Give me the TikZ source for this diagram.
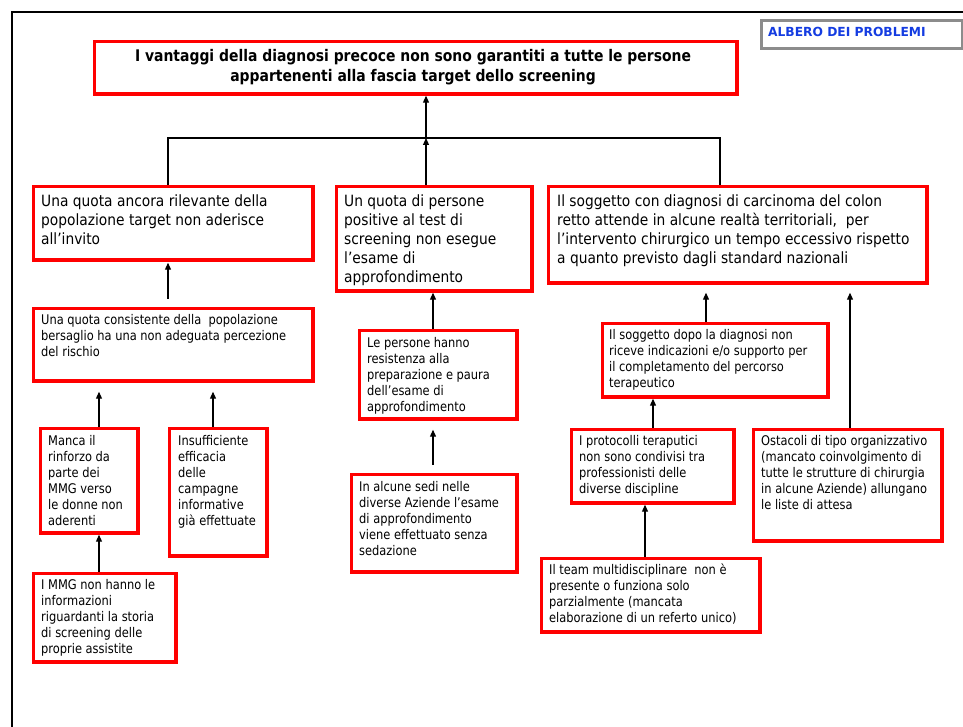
\documentclass[tikz,border=0pt]{standalone}
\usepackage{fontspec}
\setmainfont{DejaVu Sans}
\newfontfamily\bigf[FakeStretch=0.89]{DejaVu Sans}
\newfontfamily\smallf[FakeStretch=0.86]{DejaVu Sans}
\newfontfamily\titlef[FakeStretch=0.87]{DejaVu Sans}
\newfontfamily\labf[FakeStretch=0.98]{DejaVu Sans}
\usetikzlibrary{arrows.meta,calc}
\definecolor{lblue}{RGB}{20,60,225}
\definecolor{lgray}{RGB}{140,140,140}
\tikzset{
  rbox/.style={draw=red, line width=3.4pt, inner sep=0pt, anchor=north west},
  conn/.style={draw=black, line width=1.1pt, -{Triangle[length=7pt,width=6pt]}},
  trunk/.style={draw=black, line width=2pt},
  bigtxt/.style={anchor=base west, inner sep=0pt, font=\bigf\fontsize{15.5}{19}\selectfont},
  smalltxt/.style={anchor=base west, inner sep=0pt, font=\smallf\fontsize{13.3}{16}\selectfont},
}
\newcommand{\rb}[5]{\node[rbox, minimum width={#4-#2-3.4}, minimum height={#5-#3-3.4}] (#1) at ({#2+1.7},{#3+1.7}) {};}
\newcommand{\tl}[1]{\parbox[t]{400pt}{\raggedright #1}}
\begin{document}
\begin{tikzpicture}[x=1pt,y=-1pt]
\useasboundingbox (0,0) rectangle (963,727);
% frame
\draw[line width=2.3pt] (12,727) -- (12,12) -- (963,12);
% label
\node[draw=lgray, line width=3pt, anchor=north west, minimum width=201pt, minimum height=28pt, inner sep=0pt] (lab) at (759.5,19.5) {};
\node[anchor=base west, inner sep=0pt, text=lblue, font=\labf\bfseries\fontsize{12.5}{15}\selectfont] (labt) at (768,37) {ALBERO DEI PROBLEMI};
% title
\rb{top}{91}{38}{737}{94}
\node[anchor=base, inner sep=0pt, font=\titlef\bfseries\fontsize{16}{20}\selectfont] (topt) at (413,62)
  {\parbox[t]{640pt}{\centering I vantaggi della diagnosi precoce non sono garantiti a tutte le persone\\ appartenenti alla fascia target dello screening}};
% level 1
\rb{a1}{30}{183}{313}{260}
\node[bigtxt] (a1t) at (41,206.5) {\tl{Una quota ancora rilevante della\\ popolazione target non aderisce\\ all’invito}};
\rb{b1}{333}{183}{532}{291}
\node[bigtxt] (b1t) at (344,206.5) {\tl{Un quota di persone\\ positive al test di\\ screening non esegue\\ l’esame di\\ approfondimento}};
\rb{c1}{545}{183}{927}{283}
\node[bigtxt] (c1t) at (557,206.5) {\tl{Il soggetto con diagnosi di carcinoma del colon\\ retto attende in alcune realtà territoriali,\ \ per\\ l’intervento chirurgico un tempo eccessivo rispetto\\ a quanto previsto dagli standard nazionali}};
% left branch
\rb{a2}{30}{305}{313}{381}
\node[smalltxt] (a2t) at (41,324) {\tl{Una quota consistente della\ \ popolazione\\ bersaglio ha una non adeguata percezione\\ del rischio}};
\rb{a3}{37}{425}{138}{533}
\node[smalltxt] (a3t) at (48,445) {\tl{Manca il\\ rinforzo da\\ parte dei\\ MMG verso\\ le donne non\\ aderenti}};
\rb{a4}{166}{425}{267}{556}
\node[smalltxt] (a4t) at (178,445) {\tl{Insufficiente\\ efficacia\\ delle\\ campagne\\ informative\\ già effettuate}};
\rb{a5}{30}{570}{176}{662}
\node[smalltxt] (a5t) at (41,589) {\tl{I MMG non hanno le\\ informazioni\\ riguardanti la storia\\ di screening delle\\ proprie assistite}};
% middle branch
\rb{b2}{356}{327}{517}{419}
\node[smalltxt] (b2t) at (367,347) {\tl{Le persone hanno\\ resistenza alla\\ preparazione e paura\\ dell’esame di\\ approfondimento}};
\rb{b3}{348}{471}{517}{572}
\node[smalltxt] (b3t) at (359,491) {\tl{In alcune sedi nelle\\ diverse Aziende l’esame\\ di approfondimento\\ viene effettuato senza\\ sedazione}};
% right branch
\rb{c2}{599}{320}{828}{397}
\node[smalltxt] (c2t) at (609,339) {\tl{Il soggetto dopo la diagnosi non\\ riceve indicazioni e/o supporto per\\ il completamento del percorso\\ terapeutico}};
\rb{c3}{568}{426}{734}{503}
\node[smalltxt] (c3t) at (579,445) {\tl{I protocolli teraputici\\ non sono condivisi tra\\ professionisti delle\\ diverse discipline}};
\rb{c4}{750}{426}{942}{541}
\node[smalltxt] (c4t) at (761,445) {\tl{Ostacoli di tipo organizzativo\\ (mancato coinvolgimento di\\ tutte le strutture di chirurgia\\ in alcune Aziende) allungano\\ le liste di attesa}};
\rb{c5}{538}{555}{760}{632}
\node[smalltxt] (c5t) at (549,574) {\tl{Il team multidisciplinare\ \ non è\\ presente o funziona solo\\ parzialmente (mancata\\ elaborazione di un referto unico)}};
% connector positions
\coordinate (jb) at (426,138);
\coordinate (xA) at (168,0);
\coordinate (xC) at (720,0);
\coordinate (xa3) at (99,0);
\coordinate (xa4) at (213,0);
\coordinate (xb) at (433,0);
\coordinate (xc2) at (706,0);
\coordinate (xc4) at (850,0);
\coordinate (xc3) at (653,0);
\coordinate (xc5) at (645,0);
% trunk
\draw[trunk] (a1.north -| xA) |- (jb) -| (c1.north -| xC);
\draw[conn] (jb) -- (top.south -| jb);
\draw[conn] (b1.north -| jb) -- (jb);
% arrows
\draw[conn, shorten <=8pt, shorten >=1pt] (a2.north -| xA) -- (a1.south -| xA);
\draw[conn, shorten >=9pt] (a3.north -| xa3) -- (a2.south -| xa3);
\draw[conn, shorten >=9pt] (a4.north -| xa4) -- (a2.south -| xa4);
\draw[conn] (a5.north -| xa3) -- (a3.south -| xa3);
\draw[conn] (b2.north -| xb) -- (b1.south -| xb);
\draw[conn, shorten <=8pt, shorten >=9pt] (b3.north -| xb) -- (b2.south -| xb);
\draw[conn, shorten >=8pt] (c2.north -| xc2) -- (c1.south -| xc2);
\draw[conn, shorten >=8pt] (c4.north -| xc4) -- (c1.south -| xc4);
\draw[conn] (c3.north -| xc3) -- (c2.south -| xc3);
\draw[conn] (c5.north -| xc5) -- (c3.south -| xc5);
\end{tikzpicture}
\end{document}
